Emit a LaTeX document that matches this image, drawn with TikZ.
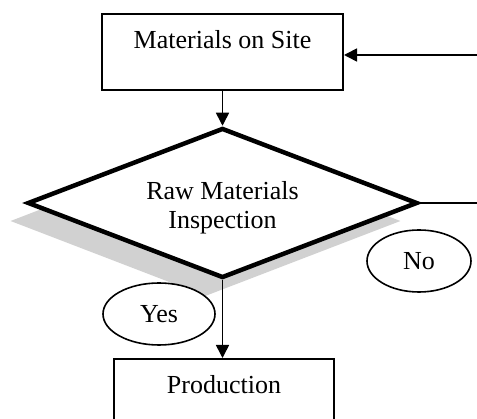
\documentclass[tikz,border=0pt]{standalone}
\usepackage{fontspec}
\setmainfont{Liberation Serif}
\usetikzlibrary{shapes.geometric,arrows.meta}
\begin{document}
\begin{tikzpicture}[x=1pt, y=-1pt,
  font=\fontsize{26}{29}\selectfont,
  procbox/.style={draw, line width=2pt, fill=white, inner sep=0pt,
    minimum height=76pt, text height=18pt, text depth=24pt},
  decision/.style={diamond, shape aspect=2.6, inner sep=0pt,
    minimum width=390pt, minimum height=150pt, align=center},
  answer/.style={ellipse, draw, line width=1.6pt, fill=white, inner sep=0pt,
    minimum height=62pt},
  flow/.style={line width=1.6pt},
  tip/.style={-{Triangle[length=13pt,width=13pt]}}
]
\useasboundingbox (0,0) rectangle (477,419);
\clip (0,0) rectangle (477,419);

% drop shadow behind the decision diamond
\node[decision, fill=black!18] (diashadow) at (205.5,221) {};

% process boxes
\node[procbox, minimum width=241pt] (site) at (222.5,52) {Materials on Site};
\node[procbox, minimum width=220pt] (prod) at (224,397) {Production};

% decision
\node[decision, draw, line width=4.5pt, fill=white] (dia) at (222.5,203)
  {\rule{0pt}{27pt}Raw Materials\\Inspection};

% outcome labels
\node[answer, minimum width=112pt] (yes) at (159,314) {Yes};
\node[answer, minimum width=104pt] (no) at (419,261) {No};

% loop ends at the right margin
\coordinate (loopin) at (477,55);
\coordinate (loopout) at (477,201);

% connectors
\draw[flow, tip] (site.south) -- (dia.north);
\draw[flow, tip] (dia.south) -- (dia.south |- prod.north);
\draw[flow, tip] (loopin) -- (loopin -| site.east);
\draw[flow] (dia.east) -- (dia.east -| loopout);
\end{tikzpicture}
\end{document}
